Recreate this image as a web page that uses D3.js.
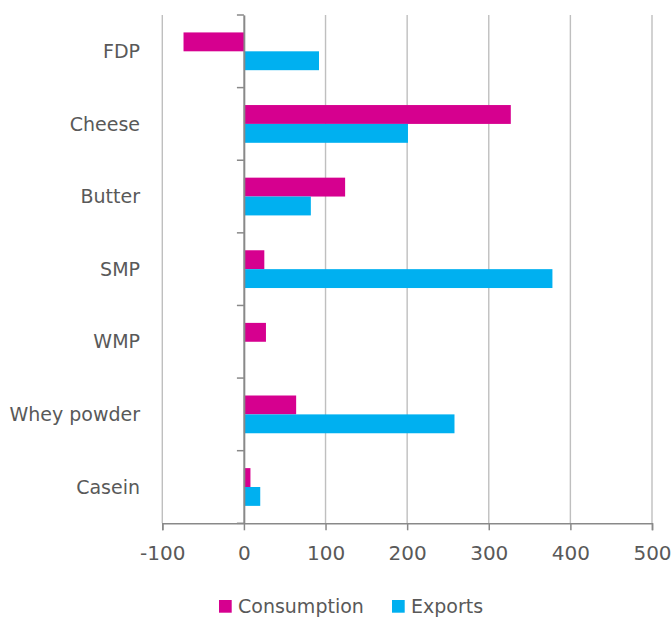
<!DOCTYPE html>
<html><head><meta charset="utf-8">
<script src="https://cdn.jsdelivr.net/npm/d3@7"></script>
<style>body{margin:0;background:#fff}svg{display:block}</style>
</head><body>
<svg id="c" width="672" height="617"></svg>
<script>
const categories = ["FDP","Cheese","Butter","SMP","WMP","Whey powder","Casein"];
const consumption = [-74, 327, 124, 25, 27, 64, 8];
const exports_ = [92, 201, 82, 378, 0, 258, 20];
const xTicks = [-100, 0, 100, 200, 300, 400, 500];
const seriesNames = ["Consumption","Exports"];
const colors = ["#D6008F","#00B0F0"];

const svg = d3.select("#c");
const pLeft = 162.3, pRight = 652, pTop = 15, pBottom = 523.3;
const x = d3.scaleLinear().domain([-100, 500]).range([pLeft, pRight]);
const y = d3.scaleBand().domain(categories).range([pTop, pBottom]).paddingInner(0.48).paddingOuter(0.24);
const sub = d3.scaleBand().domain(seriesNames).range([0, y.bandwidth()]);
const font = "DejaVu Sans";
const textCol = "#595959";

// gridlines
svg.append("g").selectAll("line").data(xTicks).join("line")
  .attr("x1", d => x(d)).attr("x2", d => x(d))
  .attr("y1", pTop).attr("y2", pBottom)
  .attr("stroke", "#BFBFBF").attr("stroke-width", 1.4);

// bars
const data = categories.map((c, i) => ({c, vals: [consumption[i], exports_[i]]}));
const g = svg.append("g");
data.forEach(d => {
  d.vals.forEach((v, j) => {
    if (v === 0) return;
    g.append("rect")
      .attr("x", x(Math.min(0, v)))
      .attr("width", Math.abs(x(v) - x(0)))
      .attr("y", y(d.c) + sub(seriesNames[j]))
      .attr("height", sub.bandwidth())
      .attr("fill", colors[j]);
  });
});

// x axis
const xa = svg.append("g").attr("transform", `translate(0,${pBottom})`)
  .call(d3.axisBottom(x).tickValues(xTicks).tickSize(7).tickPadding(16).tickFormat(d3.format("d")));
xa.select(".domain").attr("stroke", "#898989").attr("stroke-width", 1.5);
xa.selectAll(".tick line").attr("stroke", "#898989").attr("stroke-width", 1.5);
xa.selectAll("text").attr("font-family", font).attr("font-size", 20).attr("fill", textCol).text(d => d < 0 ? "-" + Math.abs(d) : d);

// y axis at zero
const ya = svg.append("g").attr("transform", `translate(${x(0)},0)`)
  .call(d3.axisLeft(y).tickSize(0).tickFormat(""));
ya.select(".domain").attr("stroke", "#898989").attr("stroke-width", 1.8);
// category boundary ticks
const bounds = categories.map(c => y(c) - y.step() * y.paddingInner() / 2).concat([pBottom]);
svg.append("g").selectAll("line").data(bounds).join("line")
  .attr("x1", x(0) - 7).attr("x2", x(0)).attr("y1", d => d).attr("y2", d => d)
  .attr("stroke", "#898989").attr("stroke-width", 1.5);

// category labels
svg.append("g").selectAll("text").data(categories).join("text")
  .attr("x", 140).attr("y", d => y(d) + y.bandwidth() / 2)
  .attr("dy", "0.35em").attr("text-anchor", "end")
  .attr("font-family", font).attr("font-size", 19).attr("fill", textCol)
  .text(d => d);

// legend
const legX = [219, 392];
const lg = svg.append("g");
seriesNames.forEach((s, i) => {
  lg.append("rect").attr("x", legX[i]).attr("y", 600).attr("width", 12.7).attr("height", 12.7).attr("fill", colors[i]);
  lg.append("text").attr("x", legX[i] + 19).attr("y", 606.5).attr("dy", "0.35em")
    .attr("font-family", font).attr("font-size", 19).attr("fill", textCol).text(s);
});
</script>
</body></html>
